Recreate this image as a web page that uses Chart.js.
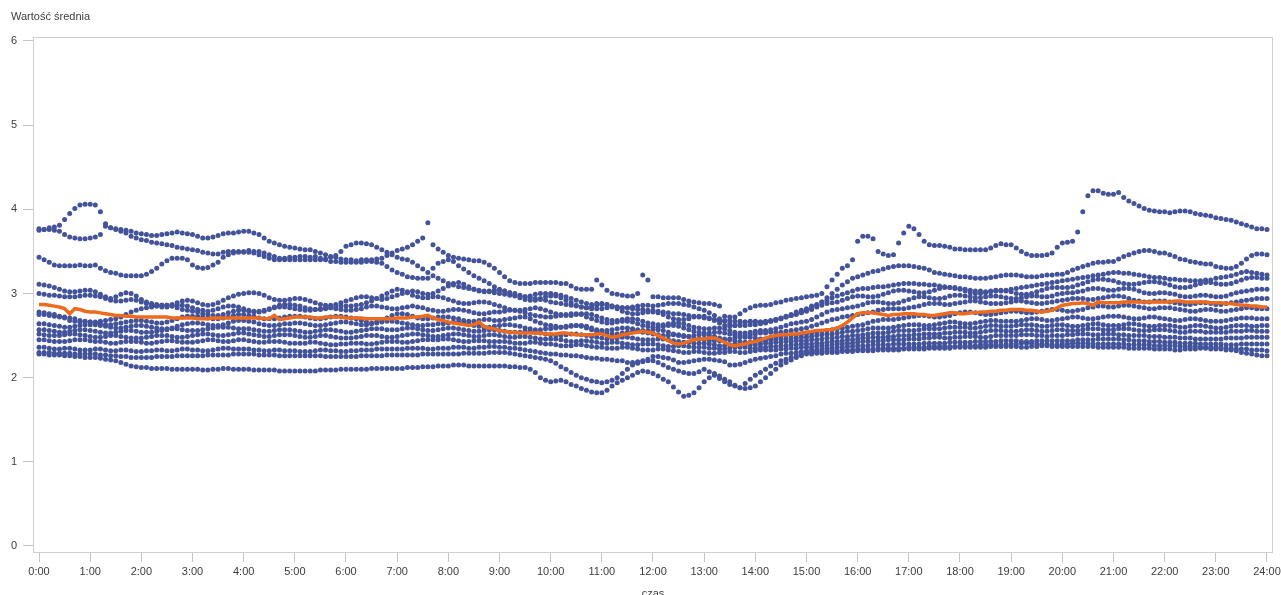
<!DOCTYPE html>
<html lang="pl">
<head>
<meta charset="utf-8">
<title>Wartość średnia</title>
<script src="https://cdn.jsdelivr.net/npm/chart.js@4.4.1/dist/chart.umd.min.js"></script>
<style>
  html, body { margin: 0; padding: 0; background: #fff; }
  #wrap { width: 1281px; height: 595px; }
</style>
</head>
<body>
<div id="wrap"><canvas id="chart" width="1281" height="595"></canvas></div>
<script>
// Pomiary co 6 minut (10 na godzinę), wartości zapisane w setnych częściach.
const hours = Array.from({ length: 241 }, (_, i) => i / 10);
const hourTicks = [0,1,2,3,4,5,6,7,8,9,10,11,12,13,14,15,16,17,18,19,20,21,22,23,24];
const valueTicks = [0,1,2,3,4,5,6];

const s01 = [
377,376,378,379,381,388,395,401,405,406,
406,405,397,383,378,377,376,375,374,372,
371,370,369,369,370,371,372,373,372,371,
370,368,366,366,367,369,371,372,372,373,
374,374,372,370,366,362,360,358,356,355,
354,353,352,352,350,348,346,344,343,341,
340,340,339,340,340,340,341,342,345,348,
351,353,355,358,362,366,384,358,353,349,
345,343,342,341,340,339,339,337,334,330,
325,320,315,313,312,312,312,313,313,313,
313,313,312,312,309,306,305,305,305,316,
310,304,300,299,298,297,297,300,322,316,
296,296,295,295,295,295,293,291,290,289,
288,288,287,285,273,272,272,276,280,283,
285,286,286,287,289,290,292,293,294,295,
296,297,298,300,308,316,323,330,333,340,
362,368,368,365,350,347,345,346,360,372,
380,377,370,362,358,357,357,356,355,353,
353,352,352,352,352,352,354,357,359,358,
358,354,350,347,345,345,345,346,348,355,
360,361,362,373,397,416,422,422,419,418,
418,420,414,410,407,404,401,399,398,397,
397,396,397,398,398,397,395,394,393,392,
390,389,388,387,385,383,381,379,377,377,
376];

const s02 = [
375,376,376,375,374,370,367,366,365,365,
366,367,370,380,378,376,374,372,368,366,
364,363,361,360,359,358,357,355,354,353,
352,351,349,348,347,347,349,350,350,350,
350,351,350,350,348,346,344,342,342,343,
343,344,344,343,344,342,340,338,338,337,
337,337,337,337,338,338,337,336,332,328,
325,323,320,319,318,318,318,330,336,338,
340,338,333,329,325,321,318,315,312,308,
305,303,301,300,298,296,295,294,293,292,
290,289,288,287,286,285,284,283,282,282,
282,283,284,284,283,283,282,281,281,280,
280,279,278,277,276,276,275,274,273,272,
271,270,269,268,268,268,267,267,266,266,
266,266,267,268,269,270,272,274,276,278,
280,283,286,290,295,300,305,310,314,318,
320,322,324,326,327,329,331,332,333,333,
333,332,331,330,328,325,324,323,322,321,
320,320,319,318,318,318,319,320,321,322,
322,322,321,320,320,320,321,322,322,323,
323,325,328,330,332,334,336,337,337,338,
338,341,344,346,348,350,351,351,350,348,
348,346,344,341,340,338,337,336,335,335,
332,331,330,330,332,336,341,345,347,347,
346];

const s03 = [
343,340,337,334,333,333,333,333,334,333,
333,334,330,327,325,324,322,321,321,321,
321,323,326,330,335,339,342,342,342,340,
334,331,330,331,334,337,343,346,348,349,
349,349,348,346,344,342,340,340,340,340,
340,340,340,340,340,340,341,343,345,350,
356,358,360,360,359,358,355,352,349,346,
343,341,340,337,333,329,325,321,318,315,
312,310,308,307,306,305,304,303,302,301,
300,299,298,297,296,296,297,299,300,300,
300,299,298,296,294,292,290,288,287,288,
288,287,285,284,283,283,284,285,286,286,
285,286,287,288,288,288,287,286,284,282,
280,277,274,270,267,264,262,262,262,263,
263,264,265,267,268,270,272,275,278,280,
282,285,287,290,292,295,297,299,301,303,
305,306,306,307,308,308,309,310,311,312,
312,312,311,311,310,310,309,308,307,307,
306,305,304,303,303,302,302,303,303,304,
305,306,307,308,309,310,311,312,313,314,
315,316,317,318,319,320,321,322,323,324,
325,325,324,324,323,322,321,320,319,319,
318,317,317,316,316,315,315,315,316,316,
318,319,320,321,323,325,326,325,324,323,
322];

const s04 = [
311,310,309,307,305,303,302,302,303,304,
304,302,299,296,294,296,299,301,300,297,
293,290,288,287,286,286,287,289,291,292,
291,289,287,286,287,289,292,295,297,299,
300,301,301,300,298,295,293,292,292,293,
294,294,293,291,289,287,286,286,287,289,
291,293,295,296,296,295,294,293,294,296,
298,300,302,303,302,300,299,300,303,306,
309,312,313,311,308,305,303,302,303,304,
304,303,301,298,295,293,292,292,294,296,
297,297,295,292,289,286,284,283,284,286,
287,287,285,282,279,277,276,276,277,278,
278,277,275,272,270,269,269,270,272,273,
273,271,268,265,262,261,262,264,266,267,
267,266,266,267,269,271,273,274,275,277,
279,281,284,286,288,289,290,292,294,296,
297,297,296,296,297,299,301,303,304,304,
303,302,301,301,302,304,306,307,307,306,
305,303,301,300,300,301,303,304,304,303,
302,300,299,299,300,302,304,306,307,307,
307,307,308,310,312,314,316,317,317,316,
315,313,312,311,311,312,313,314,314,313,
312,310,308,307,307,308,310,312,313,313,
312,311,311,312,314,316,318,319,319,318,
318];

const s05 = [
300,299,298,298,297,296,296,296,297,298,
298,297,296,294,292,291,291,292,293,292,
290,288,286,285,284,284,285,286,286,285,
283,281,280,279,280,282,284,285,285,284,
282,280,279,279,280,282,284,286,287,287,
286,285,283,282,281,281,282,283,284,285,
285,285,286,287,289,291,294,297,300,303,
305,304,301,298,296,295,295,296,296,295,
293,291,289,288,288,289,290,290,289,287,
285,283,281,280,280,281,282,283,282,280,
278,276,275,274,274,275,276,276,275,273,
271,269,268,268,269,270,270,269,267,265,
264,263,263,264,265,265,264,262,260,259,
258,258,259,259,258,256,254,253,253,254,
255,256,256,257,258,260,262,264,265,266,
267,269,272,275,278,280,281,282,283,284,
285,287,289,290,290,289,288,288,289,291,
293,295,296,296,295,294,294,295,297,298,
298,297,296,295,295,296,297,297,296,295,
294,294,295,296,297,297,296,296,297,299,
300,301,301,302,303,305,306,306,305,304,
304,305,306,306,305,303,301,300,300,301,
301,300,299,297,296,296,297,298,298,297,
296,296,297,299,301,302,303,304,305,305,
305];

const s06 = [
278,277,276,275,273,271,268,267,266,266,
266,266,267,268,269,270,272,275,278,280,
282,283,284,285,286,286,285,283,281,280,
279,278,276,275,274,274,275,277,279,280,
280,279,278,278,279,281,283,284,284,283,
282,281,280,280,281,282,283,283,282,281,
280,280,281,282,284,285,285,284,283,282,
282,283,284,285,284,283,281,280,279,279,
280,281,281,280,279,277,276,276,277,278,
278,279,280,280,279,277,275,274,273,272,
272,273,274,275,276,276,275,272,270,268,
266,265,265,266,267,267,266,264,262,261,
260,260,261,262,262,261,259,257,255,254,
253,253,254,254,253,252,251,250,250,251,
252,253,253,254,254,254,255,256,257,258,
259,261,263,265,267,269,270,272,273,274,
275,276,277,278,280,281,282,282,282,282,
283,284,285,287,288,288,288,287,287,288,
289,290,291,291,290,289,288,288,288,289,
290,291,291,290,289,288,288,289,290,291,
292,293,294,294,294,293,293,294,295,296,
297,297,296,294,292,291,290,290,291,291,
291,290,289,288,287,287,288,289,289,288,
287,287,288,289,290,291,292,293,294,294,
294];

const s07 = [
275,275,274,273,272,272,271,270,268,267,
266,265,264,263,263,264,265,266,267,268,
268,267,266,265,265,266,268,270,272,273,
273,273,272,271,270,270,271,272,274,275,
275,274,273,271,270,270,270,271,272,273,
273,273,272,271,270,270,271,272,273,273,
272,271,270,268,266,265,266,268,271,274,
276,276,275,273,271,270,270,271,272,272,
272,271,270,268,267,267,268,269,269,268,
268,269,270,271,272,272,270,267,265,263,
262,261,260,260,261,262,262,261,259,257,
256,256,257,258,259,259,258,257,256,256,
257,257,256,254,252,250,249,249,250,251,
251,250,249,247,246,246,247,248,248,248,
247,246,246,247,248,249,250,251,251,252,
252,253,254,255,256,257,258,259,260,261,
262,263,265,267,268,269,269,269,270,271,
272,273,274,274,273,272,272,273,274,276,
277,278,278,277,276,275,275,276,277,278,
279,279,278,277,277,278,279,280,281,281,
280,279,279,280,281,283,284,285,285,284,
284,285,286,286,285,284,283,282,282,283,
283,283,282,281,280,279,279,280,281,281,
280,279,279,280,281,282,283,283,282,282,
282];

const s08 = [
264,264,263,262,261,260,260,261,262,263,
263,263,262,261,260,259,259,260,261,262,
262,261,260,259,258,258,259,261,263,264,
265,265,264,263,262,262,263,265,267,268,
268,267,266,264,263,262,262,263,264,264,
265,265,264,263,262,262,263,264,265,266,
266,265,264,263,263,264,265,266,267,267,
266,265,264,263,262,262,263,263,264,264,
265,266,266,265,264,262,261,260,260,261,
262,263,263,262,261,259,258,257,257,258,
258,259,260,261,262,262,261,259,257,255,
254,253,252,252,253,254,255,255,254,253,
252,251,250,250,251,251,250,249,247,246,
245,244,244,244,245,245,244,243,242,242,
243,244,244,245,245,246,246,247,247,248,
248,249,250,251,252,252,253,254,255,255,
256,257,258,259,259,259,259,260,261,262,
263,263,263,262,262,263,264,265,266,266,
265,264,264,265,266,267,268,268,267,267,
267,267,268,269,270,270,269,268,268,269,
270,271,272,272,271,270,270,271,272,273,
273,273,272,271,270,270,271,272,272,271,
270,269,268,268,269,270,270,269,268,267,
267,267,268,269,270,271,271,271,270,270,
270];

const s09 = [
257,257,256,255,254,254,255,256,257,257,
256,255,254,253,253,254,255,256,256,255,
254,254,254,255,256,257,258,258,257,256,
256,256,257,258,259,260,260,260,259,258,
258,258,257,256,255,255,256,257,257,257,
256,255,254,254,255,256,257,257,256,255,
254,254,255,256,257,258,258,258,257,257,
257,258,259,259,258,257,256,256,257,258,
259,259,258,257,256,255,255,256,257,257,
256,255,254,254,254,255,255,254,253,252,
251,250,250,251,252,252,251,250,249,248,
247,246,246,247,248,248,247,246,245,245,
245,246,246,245,244,243,242,242,241,241,
241,240,239,238,238,239,240,240,239,239,
239,240,241,241,242,242,243,243,244,244,
244,245,245,246,247,247,248,249,249,250,
250,251,252,253,253,253,254,255,256,256,
256,256,257,258,258,258,258,259,260,260,
260,260,259,259,260,261,262,262,261,261,
261,262,263,263,263,262,261,261,262,263,
263,262,261,261,262,263,264,264,263,262,
262,262,263,264,264,263,262,261,261,262,
262,262,261,260,260,261,262,262,261,260,
259,259,260,261,262,262,262,261,261,262,
262];

const s10 = [
252,251,250,250,250,251,252,252,251,250,
249,248,248,249,250,250,249,248,247,247,
247,248,249,250,250,250,249,248,248,249,
250,251,252,252,251,250,250,251,252,253,
253,252,251,250,249,249,250,251,251,251,
250,249,248,248,249,250,250,249,248,247,
247,247,248,249,250,250,250,249,248,248,
249,250,251,252,252,251,250,249,249,250,
251,252,252,251,250,249,249,250,251,251,
250,249,248,248,249,249,248,247,246,246,
246,246,245,244,243,243,244,244,243,242,
241,241,242,242,241,240,239,239,240,240,
240,239,238,237,237,238,238,237,236,236,
236,235,235,234,234,235,236,236,236,235,
235,236,236,237,237,238,238,239,239,240,
240,240,241,241,242,243,243,244,245,245,
246,247,247,248,248,248,249,249,250,250,
250,251,251,252,252,252,252,253,253,254,
254,254,253,253,254,255,256,256,256,255,
255,255,256,257,257,256,255,255,256,257,
257,256,256,256,257,258,258,258,257,257,
257,258,258,258,257,256,256,256,257,257,
257,256,255,254,254,255,255,255,254,254,
254,254,254,255,255,255,256,256,255,255,
255];

const s11 = [
245,245,244,243,243,243,244,245,245,245,
244,243,243,242,241,241,242,243,243,243,
242,241,241,242,243,244,244,243,242,242,
242,243,244,245,245,244,243,243,244,245,
245,244,243,242,242,243,243,243,242,241,
241,241,241,242,242,241,240,239,239,240,
240,241,241,241,240,240,241,242,243,243,
243,242,242,243,244,245,245,245,245,246,
246,245,244,243,243,244,244,244,243,243,
243,243,242,241,241,241,242,242,241,240,
240,239,238,238,238,239,239,238,237,236,
236,235,235,235,236,236,235,234,233,233,
233,234,234,233,232,231,230,230,231,231,
230,229,229,230,230,231,231,230,230,231,
232,233,233,233,233,234,234,235,235,236,
236,236,237,238,238,239,240,240,241,241,
242,243,243,243,244,244,245,245,245,245,
246,246,246,247,247,248,248,247,247,248,
248,249,249,249,248,248,249,250,250,250,
250,250,251,251,251,250,250,249,250,250,
250,251,251,252,252,252,251,251,252,252,
252,251,251,250,250,250,250,249,249,249,
248,248,248,247,247,247,246,246,246,246,
246,246,247,247,247,247,248,248,248,248,
248];

const s12 = [
236,236,235,234,234,235,235,234,233,233,
233,234,234,233,232,232,233,233,232,231,
231,232,232,233,233,232,232,233,234,234,
233,233,232,232,233,234,235,235,234,234,
234,234,233,233,232,232,233,233,232,232,
232,231,231,231,232,233,233,232,232,231,
231,232,232,233,233,233,234,234,234,234,
234,234,235,235,235,235,234,234,235,235,
235,236,236,236,235,235,236,236,237,237,
236,236,235,235,234,233,232,231,230,229,
228,228,227,227,226,226,225,224,223,223,
222,222,221,220,220,218,218,219,220,222,
225,225,224,223,221,218,218,219,220,221,
222,222,221,220,219,215,215,216,218,220,
222,223,224,225,226,228,229,229,230,231,
232,233,233,234,235,235,236,236,237,237,
238,238,238,239,239,239,239,240,240,240,
240,240,240,241,241,241,241,241,242,242,
242,242,242,243,243,243,243,243,244,244,
244,244,243,243,243,244,244,244,244,244,
244,244,244,245,245,245,245,246,246,246,
246,246,245,245,244,244,244,243,243,243,
242,242,242,241,241,241,241,240,240,240,
240,240,239,239,239,240,240,240,240,240,
240];

const s13 = [
230,230,230,229,229,229,229,228,228,228,
228,228,227,227,226,226,225,225,224,224,
224,224,224,225,225,225,225,226,226,226,
226,226,226,227,227,227,227,227,228,228,
228,228,228,227,227,227,227,226,226,226,
226,226,226,226,226,226,225,225,225,225,
225,225,225,226,226,226,226,226,227,227,
227,227,227,227,227,228,228,228,228,228,
228,228,228,229,229,229,229,229,230,230,
230,230,229,228,227,226,225,224,223,222,
220,217,213,210,206,203,200,198,196,195,
194,195,197,200,205,210,215,217,219,220,
220,218,215,212,210,208,206,205,205,207,
210,207,203,199,195,192,190,188,193,198,
203,206,210,214,217,220,222,224,226,228,
230,230,231,231,232,232,232,233,233,233,
234,234,234,234,235,235,235,235,235,235,
236,236,236,236,237,237,237,237,237,237,
238,238,238,238,239,239,239,239,239,239,
240,240,241,241,241,240,240,240,239,239,
240,240,241,241,241,241,240,240,240,240,
240,240,240,239,239,239,239,239,238,238,
238,238,238,237,237,237,237,236,236,236,
236,236,235,235,234,234,234,233,233,233,
232];

const s14 = [
228,228,227,227,227,226,226,225,225,224,
224,224,223,222,221,220,218,216,214,213,
212,212,211,211,211,211,210,210,210,210,
210,210,209,209,210,210,211,211,210,210,
210,210,209,209,209,209,209,208,208,208,
208,208,208,208,208,209,209,209,209,210,
210,210,210,210,210,211,211,211,211,211,
211,211,212,212,212,213,213,213,214,214,
214,215,215,215,214,214,214,214,214,214,
214,214,213,213,212,212,210,206,200,197,
195,196,197,195,192,190,187,185,183,182,
182,185,190,194,197,200,203,206,208,207,
205,202,198,195,189,183,178,179,182,188,
195,200,205,202,198,195,191,188,187,188,
190,195,200,205,210,215,218,221,224,226,
228,228,229,229,230,230,230,231,231,231,
232,232,232,232,233,233,233,233,233,234,
234,234,234,234,235,235,235,235,235,236,
236,236,236,236,236,236,237,237,237,237,
237,237,236,236,237,237,238,238,237,237,
237,237,237,237,237,237,237,236,236,236,
236,236,236,235,235,235,235,235,234,234,
234,234,233,233,234,234,234,235,235,234,
234,234,233,233,232,230,229,228,227,226,
226];

// Wartość średnia (linia pomarańczowa)
const mean = [
287,287,286,285,284,282,276,282,281,279,
278,278,277,276,275,274,274,273,273,272,
272,272,272,272,272,272,271,271,271,271,
271,270,270,270,271,271,271,271,271,271,
271,271,271,271,270,270,274,269,270,271,
272,272,272,272,271,271,272,272,272,272,
271,271,271,271,270,270,270,270,270,270,
271,271,271,272,272,273,274,271,269,268,
266,265,264,263,262,263,266,261,259,258,
256,255,254,254,253,253,253,253,253,252,
252,252,253,253,252,251,251,251,251,252,
252,250,248,249,251,252,253,254,255,254,
253,250,247,244,241,240,241,243,245,246,
246,247,247,245,242,239,238,239,240,242,
243,245,247,249,250,251,251,252,252,253,
254,255,256,256,257,257,259,262,266,271,
276,277,277,277,276,275,274,275,275,276,
276,276,275,275,274,274,275,276,277,277,
276,276,277,277,278,278,279,279,280,280,
281,281,281,280,280,279,278,279,280,283,
286,287,288,288,289,288,286,290,289,289,
289,289,290,290,290,290,290,290,290,290,
290,290,291,291,290,290,290,290,290,289,
289,289,288,288,287,286,286,285,285,284,
284];

const allSeries = [s01, s02, s03, s04, s05, s06, s07, s08, s09, s10, s11, s12, s13, s14];

const toPoints = arr => arr.map((v, i) => ({ x: hours[i], y: v / 100 }));

const DOT = '#42529b';
const ORANGE = '#ee6a1c';
const TEXT = '#3d3d3d';
const LINE = '#cfcfcf';

Chart.defaults.font.family = '"Liberation Sans", Arial, sans-serif';
Chart.defaults.font.size = 11;
Chart.defaults.color = TEXT;

const datasets = [{
  label: 'Wartość średnia',
  type: 'line',
  data: toPoints(mean),
  borderColor: ORANGE,
  borderWidth: 3.5,
  pointRadius: 0,
  tension: 0,
  fill: false
}].concat(allSeries.map((s, k) => ({
  label: 'Seria ' + (k + 1),
  data: toPoints(s),
  backgroundColor: DOT,
  borderWidth: 0,
  pointRadius: 2.5,
  pointHoverRadius: 2.5
})));

// Ramka obszaru wykresu i podpis osi czasu
const framePlugin = {
  id: 'frame',
  beforeDatasetsDraw(chart) {
    const { ctx, chartArea: a } = chart;
    ctx.save();
    ctx.strokeStyle = LINE;
    ctx.lineWidth = 1;
    ctx.strokeRect(Math.round(a.left) + 0.5, Math.round(a.top) + 0.5,
      Math.round(a.right - a.left), Math.round(a.bottom - a.top));
    ctx.restore();
  },
  afterDraw(chart) {
    const { ctx } = chart;
    const x = chart.scales.x.getPixelForValue(12);
    ctx.save();
    ctx.fillStyle = TEXT;
    ctx.font = '11px "Liberation Sans", Arial, sans-serif';
    ctx.textAlign = 'center';
    ctx.textBaseline = 'alphabetic';
    ctx.fillText('czas', x, 596.5);
    ctx.restore();
  }
};

new Chart(document.getElementById('chart'), {
  type: 'scatter',
  data: { datasets },
  options: {
    responsive: false,
    animation: false,
    events: [],
    layout: { padding: { left: 11, right: 9, top: 0, bottom: 0 } },
    plugins: {
      legend: { display: false },
      tooltip: { enabled: false },
      title: {
        display: true,
        text: 'Wartość średnia',
        align: 'start',
        color: TEXT,
        font: { size: 11, weight: 'normal' },
        padding: { top: 10.4, bottom: 13.4 }
      }
    },
    scales: {
      x: {
        type: 'linear',
        min: -0.1173,
        max: 24.098,
        afterBuildTicks: s => { s.ticks = hourTicks.map(v => ({ value: v })); },
        afterFit: s => { s.height = 43; s.paddingLeft = 0; s.paddingRight = 0; },
        ticks: {
          autoSkip: false,
          maxRotation: 0,
          padding: 3,
          color: TEXT,
          callback: v => v + ':00'
        },
        grid: { display: true, drawOnChartArea: false, drawTicks: true, tickLength: 10, color: '#c4c4c4' },
        border: { display: false }
      },
      y: {
        type: 'linear',
        min: -0.0713,
        max: 6.0475,
        afterBuildTicks: s => { s.ticks = valueTicks.map(v => ({ value: v })); },
        afterFit: s => { s.width = 22; s.paddingTop = 0; s.paddingBottom = 0; },
        ticks: { padding: 6, color: TEXT, callback: v => String(v) },
        grid: { display: true, drawOnChartArea: false, drawTicks: true, tickLength: 10, color: '#c4c4c4' },
        border: { display: false }
      }
    }
  },
  plugins: [framePlugin]
});
</script>
</body>
</html>
